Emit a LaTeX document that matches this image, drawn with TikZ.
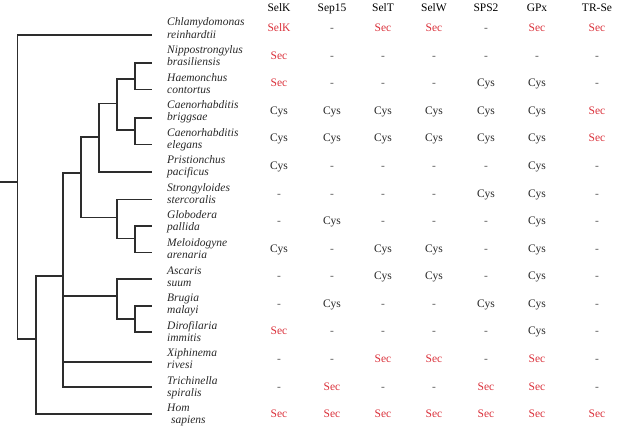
\documentclass[tikz,border=0pt]{standalone}
\usepackage{fontspec}
\setmainfont{Liberation Serif}
\definecolor{secred}{RGB}{218,48,58}
\definecolor{treeline}{RGB}{45,45,45}
\definecolor{cystxt}{RGB}{40,40,40}
\definecolor{dashtxt}{RGB}{90,90,90}
\def\txtk{SelK}
\def\txts{Sec}
\def\txtc{Cys}
\def\txtd{-}
\begin{document}
\begin{tikzpicture}[x=1pt,y=-1pt,
  branch/.style={draw=treeline,line width=1.6pt},
  taxon/.style={anchor=base west,inner sep=0pt,font=\fontsize{11.5}{13}\selectfont\itshape,text=cystxt},
  header/.style={anchor=base,inner sep=0pt,font=\fontsize{11.5}{13}\selectfont,text=black},
  celltxt/.style={anchor=base,inner sep=0pt,font=\fontsize{11.5}{13}\selectfont},
  tck/.style={celltxt,text=secred},
  tcs/.style={celltxt,text=secred},
  tcc/.style={celltxt,text=cystxt},
  tcd/.style={celltxt,text=dashtxt}]
\useasboundingbox (0,0) rectangle (618,428);

% ---------- tree coordinates ----------
\coordinate (stub) at (0,182);
\coordinate (root) at (17.3,182);
\coordinate (n1) at (35.7,339);
\coordinate (n2) at (63,275.7);
\coordinate (n3) at (81,172.7);
\coordinate (n4) at (99,136.7);
\coordinate (n5) at (116.7,103.3);
\coordinate (n6) at (135,79);
\coordinate (n7) at (135,130);
\coordinate (n8) at (116.7,217.3);
\coordinate (n9) at (135,238.3);
\coordinate (n10) at (116.7,296);
\coordinate (n11) at (135,319);
\foreach \ly [count=\i] in {35,63.3,89.3,117.7,144.3,171.7,199.3,226,252.3,278.7,306,332,361.7,387,414}
  \coordinate (leaf\i) at (151.7,\ly);

% ---------- tree branches ----------
\draw[branch] (stub) -- (root);
\draw[branch] (root) |- (leaf1);
\draw[branch] (root) |- (n1);
\draw[branch] (n1) |- (n2);
\draw[branch] (n1) |- (leaf15);
\draw[branch] (n2) |- (n3);
\draw[branch] (n2) |- (n10);
\draw[branch] (n2) |- (leaf13);
\draw[branch] (n2) |- (leaf14);
\draw[branch] (n3) |- (n4);
\draw[branch] (n3) |- (n8);
\draw[branch] (n4) |- (n5);
\draw[branch] (n4) |- (leaf6);
\draw[branch] (n5) |- (n6);
\draw[branch] (n5) |- (n7);
\draw[branch] (n6) |- (leaf2);
\draw[branch] (n6) |- (leaf3);
\draw[branch] (n7) |- (leaf4);
\draw[branch] (n7) |- (leaf5);
\draw[branch] (n8) |- (leaf7);
\draw[branch] (n8) |- (n9);
\draw[branch] (n9) |- (leaf8);
\draw[branch] (n9) |- (leaf9);
\draw[branch] (n10) |- (leaf10);
\draw[branch] (n10) |- (n11);
\draw[branch] (n11) |- (leaf11);
\draw[branch] (n11) |- (leaf12);

% ---------- taxon names ----------
\foreach \la/\lb [count=\r from 0] in {
  Chlamydomonas/reinhardtii, Nippostrongylus/brasiliensis, Haemonchus/contortus,
  Caenorhabditis/briggsae, Caenorhabditis/elegans, Pristionchus/pacificus,
  Strongyloides/stercoralis, Globodera/pallida, Meloidogyne/arenaria,
  Ascaris/suum, Brugia/malayi, Dirofilaria/immitis, Xiphinema/rivesi,
  Trichinella/spiralis}{
  \node[taxon] (ta\r) at (167,{26+27.57*\r}) {\la};
  \node[taxon] (tb\r) at (167,{38+27.57*\r}) {\lb};
}
\node[taxon] (ta14) at (167,{26+27.57*14}) {Hom};
\node[taxon] (tb14) at (171,{38+27.57*14}) {sapiens};

% ---------- column headers ----------
\foreach \h [count=\c from 0] in {SelK,Sep15,SelT,SelW,SPS2,GPx,TR-Se}{
  \pgfmathparse{{279,332,383,434,486,537,597}[\c]}
  \node[header] (h\c) at (\pgfmathresult,11.5) {\h};
}

% ---------- table cells ----------
\foreach \rowspec [count=\r from 0] in {
  {k,d,s,s,d,s,s},
  {s,d,d,d,d,d,d},
  {s,d,d,d,c,c,d},
  {c,c,c,c,c,c,s},
  {c,c,c,c,c,c,s},
  {c,d,d,d,d,c,d},
  {d,d,d,d,c,c,d},
  {d,c,d,d,d,c,d},
  {c,d,c,c,d,c,d},
  {d,d,c,c,d,c,d},
  {d,c,d,d,c,c,d},
  {s,d,d,d,d,c,d},
  {d,d,s,s,d,s,d},
  {d,s,d,d,s,s,d},
  {s,s,s,s,s,s,s}}{
  \foreach \cc [count=\c from 0] in \rowspec {
    \pgfmathparse{{279,332,383,434,486,537,597}[\c]}
    \let\xx\pgfmathresult
    \node[tc\cc] (c\r-\c) at (\xx,{31.7+27.57*\r}) {\csname txt\cc\endcsname};
  }
}
\end{tikzpicture}
\end{document}
